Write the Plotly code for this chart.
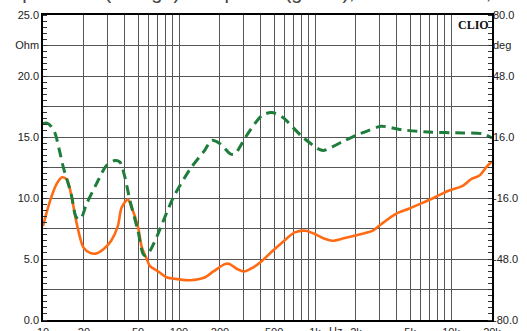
import math
import plotly.graph_objects as go

# ---- data ----
freq_z = [10, 11.3, 12.6, 13.8, 15, 16.1, 17.7, 19.8, 22.2, 24.6, 27.8, 31.7, 35.5, 37.8, 42, 45,
          50, 53.3, 57.4, 61, 70, 81, 98, 121, 154, 180, 217, 235, 265, 300, 350, 409, 480, 574,
          710, 853, 995, 1150, 1340, 1656, 2190, 2640, 3060, 3930, 4840, 6040, 7610, 9570,
          12180, 14160, 16170, 18280, 20000]
impedance = [7.7, 9.8, 11.15, 11.7, 11.5, 10.3, 7.9, 5.95, 5.5, 5.45, 5.8, 6.5, 7.7, 9.2, 9.87, 9.2,
             7.6, 5.95, 5.1, 4.44, 4.0, 3.5, 3.35, 3.26, 3.48, 4.0, 4.58, 4.6, 4.2, 3.97, 4.3, 4.85, 5.6, 6.36,
             7.18, 7.32, 7.05, 6.7, 6.5, 6.72, 7.05, 7.3, 7.85, 8.7, 9.1, 9.56, 10.06, 10.6,
             11.0, 11.57, 11.84, 12.58, 13.0]

freq_p = [10, 10.7, 11.5, 12.3, 13.2, 14.1, 16.1, 17.6, 18.9, 20.9, 24.7, 29.3, 33.8, 36.8, 40, 43.6,
          49.9, 54.5, 57, 62, 70, 91, 121, 154, 174, 200, 238, 256, 320, 409, 479, 574, 795, 1053,
          1148, 1570, 1995, 2490, 3060, 4345, 6795, 12180, 16940, 20000]
phase = [23, 23.3, 21.5, 17.7, 9, 0.2, -13.8, -26.2, -27, -19.1, -8.6, 1.05, 3.7, 2.8, -5.1, -17.4,
         -33.2, -45.4, -46.3, -43, -34.9, -15.6, -0.7, 8.9, 14.2, 12.5, 7.2, 7.0, 17.7, 27.4, 28.8, 26.5, 16.5, 9.8,
         8.9, 13.3, 16.8, 19.5, 21.6, 19.8, 18.6, 18.1, 17.7, 15.5]

x_grid = [10, 20, 30, 40, 50, 60, 70, 80, 90, 100, 200, 300, 400, 500, 600, 700, 800, 900,
          1000, 2000, 3000, 4000, 5000, 6000, 7000, 8000, 9000, 10000, 20000]
x_labels = {10: "10", 20: "20", 50: "50", 100: "100", 200: "200", 500: "500", 1000: "1k",
            2000: "2k", 5000: "5k", 10000: "10k", 20000: "20k"}

y_left_vals = [0, 2.5, 5, 7.5, 10, 12.5, 15, 17.5, 20, 22.5, 25]
y_left_text = ["0.0", "", "5.0", "", "10.0", "", "15.0", "", "20.0", "Ohm", "25.0"]
y_right_vals = [-80, -48, -16, 16, 48, 64, 80]
y_right_text = ["-80.0", "-48.0", "-16.0", "16.0", "48.0", "deg", "80.0"]

tick_font = dict(family="Liberation Sans, Arial, sans-serif", size=11, color="#222")
grid_col = "#555555"

fig = go.Figure()
fig.add_trace(go.Scatter(x=freq_z, y=impedance, mode="lines", yaxis="y",
                         line=dict(color="#FF6A13", width=2.6, shape="spline", smoothing=0.8),
                         hoverinfo="skip"))
fig.add_trace(go.Scatter(x=freq_p, y=phase, mode="lines", yaxis="y2",
                         line=dict(color="#1E7D3A", width=3, dash="10px,6px", shape="spline", smoothing=0.8),
                         hoverinfo="skip"))

fig.update_layout(
    width=527, height=331,
    margin=dict(l=43, r=35, t=15, b=11, autoexpand=False),
    paper_bgcolor="white", plot_bgcolor="white",
    showlegend=False,
    xaxis=dict(type="log", range=[1, math.log10(20000)], automargin=False,
               tickmode="array", tickvals=x_grid,
               ticktext=[x_labels.get(v, "") for v in x_grid],
               showgrid=True, gridcolor=grid_col, gridwidth=1,
               ticks="", showline=True, linecolor="black", linewidth=1.5, mirror=True,
               tickfont=tick_font, ticklabelstandoff=1, zeroline=False),
    yaxis=dict(range=[0, 25], tickmode="array", tickvals=y_left_vals, ticktext=y_left_text,
               automargin=False,
               showgrid=True, gridcolor=grid_col, gridwidth=1,
               ticks="", showline=True, linecolor="black", linewidth=1.5, mirror=True,
               minor=dict(tickmode="linear", tick0=0, dtick=0.5, ticks="inside", ticklen=4,
                          tickcolor="#333", showgrid=False),
               tickfont=tick_font, zeroline=False),
    yaxis2=dict(range=[-80, 80], overlaying="y", side="right", tickmode="array",
                automargin=False,
                tickvals=y_right_vals, ticktext=y_right_text, showgrid=False,
                ticks="", showline=False, zeroline=False,
                minor=dict(tickmode="linear", tick0=-80, dtick=3.2, ticks="inside", ticklen=4,
                           tickcolor="#333", showgrid=False),
                tickfont=tick_font),
)

fig.add_annotation(text="<b>CLIO</b>", xref="paper", yref="paper", x=1, y=1,
                   xanchor="right", yanchor="top", xshift=-1, yshift=-1, showarrow=False,
                   font=dict(family="Liberation Serif, Times New Roman, serif", size=12, color="#111"))
fig.add_annotation(text="Hz", xref="x", yref="paper", x=math.log10(1420), y=0,
                   xanchor="center", yanchor="top", yshift=-3, showarrow=False, font=tick_font)
fig.add_annotation(text="Impedance (orange) and phase (green), 10 Hz–20 kHz, driving voltage",
                   xref="paper", yref="paper", x=-0.1, y=1.034, xanchor="left", yanchor="bottom",
                   showarrow=False,
                   font=dict(family="Liberation Sans, Arial, sans-serif", size=20, color="#444"))

fig.write_html("out.html", config={"displayModeBar": False},
               post_script="document.body.style.margin='0';document.body.style.overflow='hidden';")
